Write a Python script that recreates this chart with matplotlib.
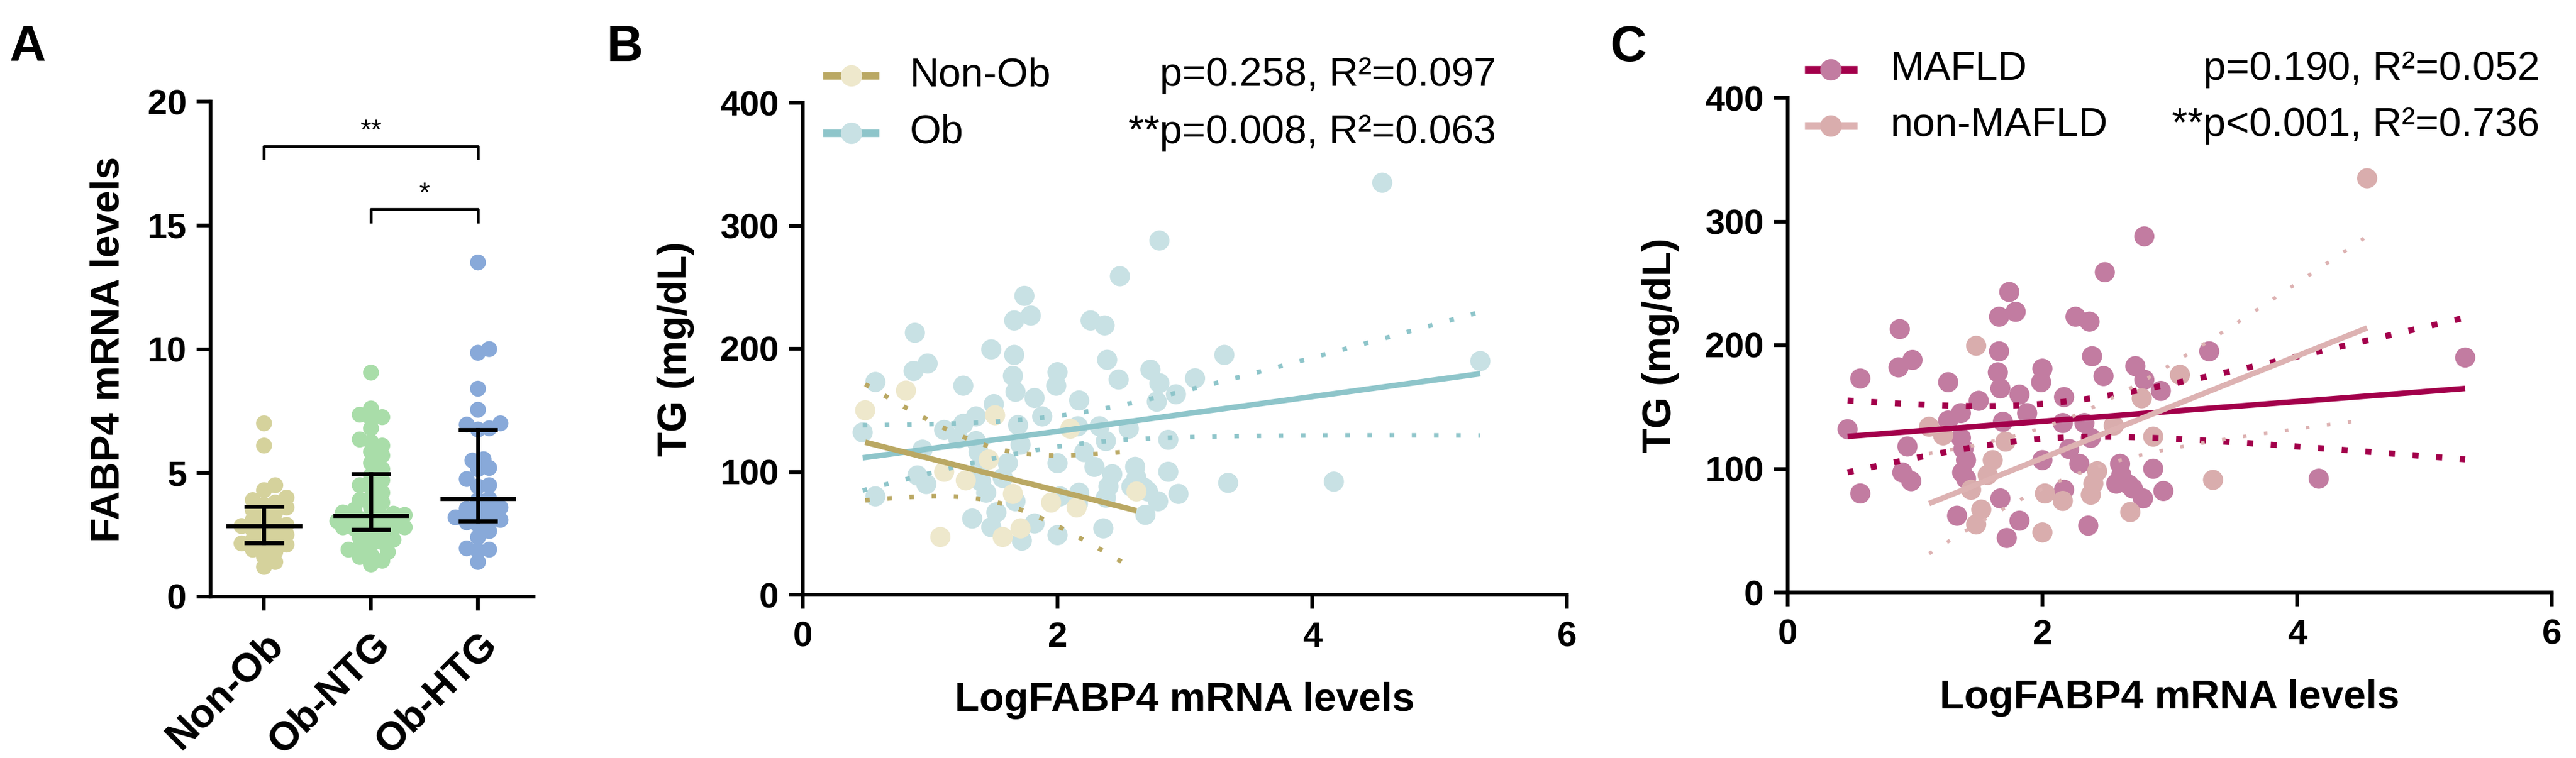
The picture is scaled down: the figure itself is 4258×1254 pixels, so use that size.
import numpy as np
import matplotlib
matplotlib.use('Agg')
import matplotlib.pyplot as plt

plt.rcParams['font.family'] = ['Liberation Sans', 'DejaVu Sans']

# ---- Panel A: FABP4 mRNA levels per group ----
groups_a = ['Non-Ob', 'Ob-NTG', 'Ob-HTG']
colors_a = ['#D5D29C', '#A9DDA9', '#88A9D9']
nonob_a = [7.0, 6.1, 4.5, 4.3, 4.0, 3.9, 3.8, 3.7, 3.6, 3.5, 3.4, 3.3, 3.1, 3.0, 2.9, 2.85,
           2.8, 2.7, 2.6, 2.5, 2.4, 2.3, 2.2, 2.15, 2.1, 2.0, 1.9, 1.8, 1.6, 1.4, 1.2]
obntg_a = [9.05, 7.6, 7.35, 7.25, 7.2, 6.8, 6.35, 6.25, 6.1, 5.85, 5.7, 5.4, 5.15,
           4.9, 4.7, 4.5, 4.4, 4.2, 4.0, 3.9, 3.8, 3.6, 3.5, 3.4, 3.35, 3.3,
           3.25, 3.2, 3.15, 3.1, 3.05, 3.0, 2.95, 2.9, 2.85, 2.8, 2.8, 2.78, 2.76,
           2.6, 2.5, 2.4, 2.3, 2.2, 2.1, 2.0, 1.9, 1.8, 1.7, 1.6, 1.45, 1.3]
obhtg_a = [13.5, 10.0, 9.85, 8.4, 7.55, 7.0, 6.95, 6.8, 6.75, 5.55, 5.5, 5.2, 5.15, 4.75,
           4.5, 4.45, 3.95, 3.9, 3.6, 3.55, 3.5, 3.4, 3.2, 3.1, 3.05, 3.0, 2.9, 2.65,
           2.4, 1.95, 1.9, 1.85, 1.4]
sig_pairs = [(0, 2, 18.2, '**'), (1, 2, 15.65, '*')]

# ---- Panels B / C: TG vs LogFABP4 ----
# Non-obese subjects (panel B only)
nonob_x = [0.49, 0.81, 1.51, 2.10, 1.11, 1.28, 1.46, 1.65, 1.95, 2.15, 2.62, 1.08, 1.57, 1.71]
nonob_y = [150, 166, 146, 135, 100, 93, 110, 82, 75, 71, 84, 47, 47, 54]

# Obese subjects with MAFLD (panel B "Ob", panel C "MAFLD")
mafld_x = [2.80, 2.49, 1.74, 1.79, 1.66, 2.26, 2.37, 0.88, 1.66, 2.39, 0.98, 0.87, 2.00, 3.31,
           0.57, 1.26, 1.99, 1.65, 2.48, 2.73, 2.80, 2.93, 1.67, 1.82, 1.50, 2.17, 1.88, 1.36,
           1.69, 1.26, 0.47, 2.16, 2.33, 2.38, 0.94, 1.36, 1.38, 2.21, 2.00, 2.29, 1.40, 1.37,
           2.61, 2.87, 0.90, 0.97, 0.57, 2.58, 2.68, 2.95, 2.79, 2.17, 1.67, 1.33, 1.82, 1.72,
           2.36, 1.40, 2.62, 2.71, 4.17, 5.32]
mafld_y = [288, 259, 243, 227, 223, 223, 219, 213, 195, 191, 188, 182, 181, 195,
           173, 170, 170, 178, 175, 183, 172, 163, 165, 160, 155, 158, 145, 145,
           138, 139, 132, 137, 137, 125, 118, 125, 116, 116, 107, 104, 107, 97,
           104, 100, 97, 90, 80, 88, 87, 82, 76, 83, 76, 62, 58, 44,
           54, 92, 95, 84, 92, 190]
# Obese subjects without MAFLD
nomafld_x = [1.48, 1.11, 1.22, 3.08, 2.78, 2.56, 2.87, 3.34, 1.71, 1.61, 1.57, 1.44, 1.52,
             1.48, 2.02, 2.16, 2.43, 2.38, 2.69, 2.00, 4.55, 2.40]
nomafld_y = [199.5, 134, 127, 176, 157, 135, 126, 91, 122, 107, 95, 83, 67,
             55, 80, 74, 98, 79, 65, 48.5, 335, 88]

# fitted lines as shown in the figure: (slope, intercept)
fit_nonob = (-26.1, 136.8)
fit_ob = (14.1, 104.7)
fit_mafld = (8.0, 122.4)
fit_nomafld = (41.3, 26.0)

stats_b = ['p=0.258, R\u00b2=0.097', '**p=0.008, R\u00b2=0.063']
stats_c = ['p=0.190, R\u00b2=0.052', '**p<0.001, R\u00b2=0.736']

W, H = 4258, 1254


def px_axes(fig, left, right, top, bottom):
    return fig.add_axes([left / W, 1 - bottom / H, (right - left) / W, (bottom - top) / H])


def t_crit(df):
    # Cornish-Fisher approximation of the two-sided 95% t quantile
    z = 1.959964
    return (z + (z**3 + z) / (4 * df) + (5 * z**5 + 16 * z**3 + 3 * z) / (96 * df**2)
            + (3 * z**7 + 19 * z**5 + 17 * z**3 - 15 * z) / (384 * df**3))


def fit_ci(x, y, coef):
    x = np.asarray(x, float)
    y = np.asarray(y, float)
    n = len(x)
    b, a = coef
    xs = np.linspace(x.min(), x.max(), 200)
    fit = a + b * xs
    s = np.sqrt(np.sum((y - (a + b * x))**2) / (n - 2))
    sxx = np.sum((x - x.mean())**2)
    se = s * np.sqrt(1 / n + (xs - x.mean())**2 / sxx)
    t = t_crit(n - 2)
    return xs, fit, fit - t * se, fit + t * se


def swarm(vals, dx, dy, frac=0.6, maxw=0.34):
    vals = np.asarray(vals, float)
    offs = np.zeros(len(vals))
    placed = []
    cands = [0.0]
    k = 1
    while k * dx * 0.35 <= maxw:
        cands += [k * dx * 0.35, -k * dx * 0.35]
        k += 1
    for i in np.argsort(vals):
        v = vals[i]
        best, best_d = 0.0, -1
        for c in cands:
            d = min([np.hypot((c - po) / dx, (v - pv) / dy) for po, pv in placed] or [9])
            if d >= frac:
                best = c
                break
            if d > best_d:
                best, best_d = c, d
        offs[i] = best
        placed.append((best, v))
    return offs


def style_axes(ax):
    for side in ['top', 'right']:
        ax.spines[side].set_visible(False)
    for side in ['left', 'bottom']:
        ax.spines[side].set_linewidth(1.5)
    ax.tick_params(direction='out', length=5.5, width=1.5, labelsize=14, pad=4)
    for lab in ax.get_xticklabels() + ax.get_yticklabels():
        lab.set_fontweight('bold')


fig = plt.figure(figsize=(W / 300, H / 300), dpi=300)

# ---------------- Panel A ----------------
axA = px_axes(fig, 348, 882, 168, 987)
for i, vals in enumerate([nonob_a, obntg_a, obhtg_a]):
    offs = swarm(vals, 0.15, 0.62)
    axA.scatter(i + offs, vals, s=40, color=colors_a[i], edgecolors='none', zorder=2)
    q1, med, q3 = np.percentile(vals, [25, 50, 75])
    axA.plot([i - 0.335, i + 0.335], [med, med], color='black', lw=1.6, zorder=3)
    axA.plot([i, i], [q1, q3], color='black', lw=1.6, zorder=3)
    for q in (q1, q3):
        axA.plot([i - 0.165, i + 0.165], [q, q], color='black', lw=1.6, zorder=3)
for a, b, yy, star in sig_pairs:
    axA.plot([a, a, b, b], [yy - 0.5, yy, yy, yy - 0.5], color='black', lw=1.1)
    axA.text((a + b) / 2, yy + 0.05, star, ha='center', va='bottom', fontsize=11)
axA.set_xlim(-0.5, 2.52)
axA.set_ylim(0, 20)
axA.set_yticks([0, 5, 10, 15, 20])
axA.set_xticks(range(3))
axA.set_xticklabels(groups_a, rotation=45, ha='right', rotation_mode='anchor')
style_axes(axA)
axA.tick_params(axis='x', labelsize=16, pad=6)
axA.set_ylabel('FABP4 mRNA levels', fontsize=16, fontweight='bold', labelpad=8)

# ---------------- Panels B and C ----------------
ob_x = mafld_x + nomafld_x
ob_y = mafld_y + nomafld_y

panel_b = [
    (ob_x, ob_y, fit_ob, '#C8E1E4', '#8EC5CA', 1.8),
    (nonob_x, nonob_y, fit_nonob, '#EEE8CC', '#BAA863', 1.8),
]
panel_c = [
    (mafld_x, mafld_y, fit_mafld, '#C27CA1', '#A3004B', 2.4),
    (nomafld_x, nomafld_y, fit_nomafld, '#D9ADAD', '#DDB2B2', 1.4),
]

axB = px_axes(fig, 1327, 2590, 170, 984)
axC = px_axes(fig, 2955, 4218, 162, 980)

for ax, series in [(axB, panel_b), (axC, panel_c)]:
    for x, y, coef, mcol, lcol, dot in series:
        ax.scatter(x, y, s=64, color=mcol, edgecolors='none', zorder=2)
    for x, y, coef, mcol, lcol, dot in series:
        xs, fit, lo, hi = fit_ci(x, y, coef)
        ax.plot(xs, fit, color=lcol, lw=2.2, zorder=4, solid_capstyle='butt')
        for band in (lo, hi):
            ax.plot(xs, band, color=lcol, lw=dot, zorder=4, dashes=(1, 7.0 / dot),
                    dash_capstyle='butt')
    ax.set_xlim(0, 6)
    ax.set_ylim(0, 400)
    ax.set_xticks([0, 2, 4, 6])
    ax.set_yticks([0, 100, 200, 300, 400])
    style_axes(ax)
    ax.tick_params(axis='x', pad=5)
    ax.set_xlabel('LogFABP4 mRNA levels', fontsize=16, fontweight='bold', labelpad=11)
    ax.set_ylabel('TG (mg/dL)', fontsize=16, fontweight='bold', labelpad=10)


def legend_rows(ax, rows, stats, ys, x0, x1, xt, xs):
    for (mcol, lcol, name), st, yy in zip(rows, stats, ys):
        ax.plot([x0, x1], [yy, yy], color=lcol, lw=3, transform=ax.transAxes, clip_on=False,
                solid_capstyle='butt')
        ax.plot([(x0 + x1) / 2], [yy], 'o', ms=8.5, color=mcol, mec='none',
                transform=ax.transAxes, clip_on=False)
        ax.text(xt, yy, name, transform=ax.transAxes, fontsize=16, va='center', ha='left')
        ax.text(xs, yy, st, transform=ax.transAxes, fontsize=16, va='center', ha='right')


legend_rows(axB, [('#EEE8CC', '#BAA863', 'Non-Ob'), ('#C8E1E4', '#8EC5CA', 'Ob')], stats_b,
            [1.055, 0.939], 0.026, 0.10, 0.14, 0.907)
legend_rows(axC, [('#C27CA1', '#A3004B', 'MAFLD'), ('#D9ADAD', '#DDB2B2', 'non-MAFLD')], stats_c,
            [1.057, 0.944], 0.022, 0.091, 0.134, 0.984)

for lab, xp in [('A', 16), ('B', 1002), ('C', 2662)]:
    fig.text(xp / W, 1 - 40 / H, lab, fontsize=20, fontweight='bold', ha='left', va='top')

fig.savefig('out.png', dpi=300)
